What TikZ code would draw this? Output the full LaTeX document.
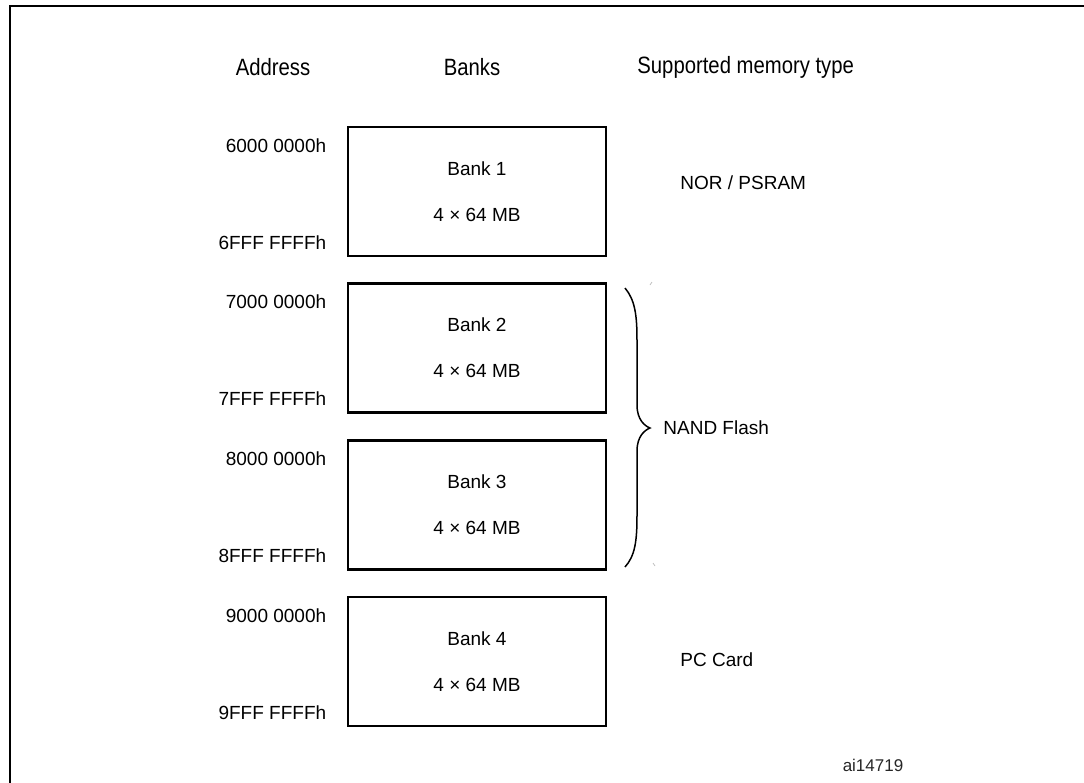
\documentclass[tikz,border=0pt]{standalone}
\usepackage{fontspec}
\setmainfont{Liberation Sans}
\newfontfamily\headfont[FakeStretch=0.86]{Liberation Sans}
\usepackage{tikz}
\usetikzlibrary{positioning}

\begin{document}
\begin{tikzpicture}[x=0.5pt,y=-0.5pt,
		bankbox/.style={draw,line width=1.4pt,minimum width=129pt,minimum height=64.5pt,inner sep=0pt,align=center,font=\fontsize{9.5}{11}\selectfont},
		addr/.style={anchor=east,inner sep=0pt,font=\fontsize{9.5}{11}\selectfont},
		memtype/.style={anchor=west,inner sep=0pt,font=\fontsize{9.5}{11}\selectfont},
		headtext/.style={inner sep=0pt,font=\headfont\fontsize{11.8}{13}\selectfont}]
			\useasboundingbox (0,0) rectangle (1084,783);
			\clip (0,0) rectangle (1084,783);
			\draw[line width=1pt] (1100,6) -- (10,6) -- (10,800);
			
			\node[headtext] (haddr) at (273,67) {Address};
			\node[headtext] (hbanks) at (472,67) {Banks};
			\node[headtext, anchor=west] (htype) at (637,67) {Supported memory type};
			
			\node[bankbox] (bank1) at (477,191.5) {Bank 1\\[12pt]4 × 64 MB};
			\node[bankbox] (bank2) at (477,348) {Bank 2\\[12pt]4 × 64 MB};
			\node[bankbox] (bank3) at (477,505) {Bank 3\\[12pt]4 × 64 MB};
			\node[bankbox] (bank4) at (477,661.5) {Bank 4\\[12pt]4 × 64 MB};
			
			\node[addr] (a6start) at ([xshift=-10pt,yshift=-10pt]bank1.north west) {6000 0000h};
			\node[addr] (a6end) at ([xshift=-10pt,yshift=7.5pt]bank1.south west) {6FFF FFFFh};
			\node[addr] (a7start) at ([xshift=-10pt,yshift=-10pt]bank2.north west) {7000 0000h};
			\node[addr] (a7end) at ([xshift=-10pt,yshift=7.5pt]bank2.south west) {7FFF FFFFh};
			\node[addr] (a8start) at ([xshift=-10pt,yshift=-10pt]bank3.north west) {8000 0000h};
			\node[addr] (a8end) at ([xshift=-10pt,yshift=7.5pt]bank3.south west) {8FFF FFFFh};
			\node[addr] (a9start) at ([xshift=-10pt,yshift=-10pt]bank4.north west) {9000 0000h};
			\node[addr] (a9end) at ([xshift=-10pt,yshift=7.5pt]bank4.south west) {9FFF FFFFh};
			
			\node[memtype] (nor) at (680,183) {NOR / PSRAM};
			\node[memtype] (nand) at (663,428) {NAND Flash};
			\node[memtype] (pccard) at (680,660) {PC Card};
			
			\draw[line width=0.75pt] (625,288) .. controls (635,300) and (637,315) .. (637,340) -- (637,405) .. controls (637,420) and (645,426) .. (650,428) .. controls (645,430) and (637,436) .. (637,451) -- (637,516) .. controls (637,541) and (635,556) .. (625,567);
			\draw[black!25,line width=0.4pt] (650,285) -- (652,282);
			\draw[black!25,line width=0.4pt] (653,563) -- (655,566);
			
			\node[inner sep=0pt,text=black!85,font=\fontsize{8.5}{10}\selectfont] (figid) at (873,765) {ai14719};
		\end{tikzpicture}
\end{document}
